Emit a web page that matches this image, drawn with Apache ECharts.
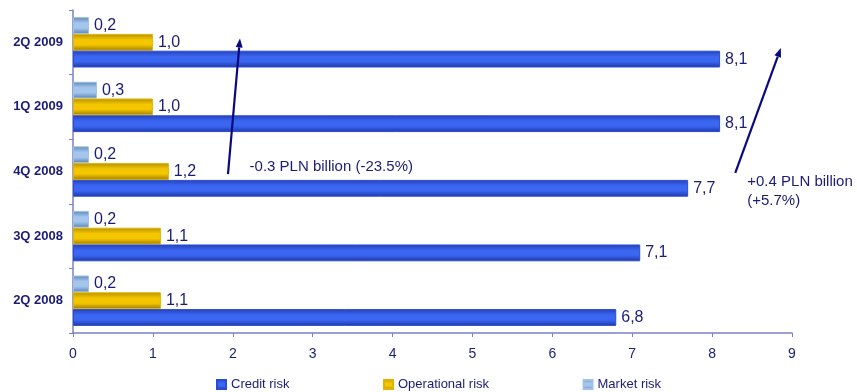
<!DOCTYPE html>
<html>
<head>
<meta charset="utf-8">
<script src="https://cdn.jsdelivr.net/npm/echarts@6/dist/echarts.min.js"></script>
<style>
  html, body { margin: 0; padding: 0; background: #ffffff; }
  #chart { width: 857px; height: 392px; }
</style>
</head>
<body>
<div id="chart"></div>
<script>
// Quarters, bottom to top
const quarters = ['2Q 2008', '3Q 2008', '4Q 2008', '1Q 2009', '2Q 2009'];
// Capital requirements, PLN billion
const creditRisk = [6.8, 7.1, 7.7, 8.1, 8.1];
const operationalRisk = [1.1, 1.1, 1.2, 1.0, 1.0];
const marketRisk = [0.2, 0.2, 0.2, 0.3, 0.2];
const xTicks = [0, 1, 2, 3, 4, 5, 6, 7, 8, 9];

const navy = '#1B1B78';
const fontFamily = 'Liberation Sans, Arial, sans-serif';

function shade(edgeTop, mid, edgeBottom) {
  return new echarts.graphic.LinearGradient(0, 0, 0, 1, [
    { offset: 0, color: edgeTop },
    { offset: 0.35, color: mid },
    { offset: 0.65, color: mid },
    { offset: 1, color: edgeBottom }
  ]);
}

const commaLabel = {
  show: true,
  position: 'right',
  distance: 5,
  color: navy,
  fontSize: 16,
  fontFamily: fontFamily,
  formatter: p => p.value.toFixed(1).replace('.', ',')
};

const chart = echarts.init(document.getElementById('chart'), null, { renderer: 'canvas' });

// Within each quarter the bars stack top-down: market, operational, credit
chart.setOption({
  animation: false,
  backgroundColor: '#ffffff',
  grid: { left: 73, right: 65, top: 10, bottom: 59, containLabel: false },
  legend: {
    left: 211,
    top: 373,
    itemWidth: 9,
    itemHeight: 9,
    itemGap: 93.5,
    icon: 'rect',
    textStyle: { color: navy, fontSize: 13, fontFamily: fontFamily },
    data: ['Credit risk', 'Operational risk', 'Market risk']
  },
  xAxis: {
    type: 'value',
    min: xTicks[0],
    max: xTicks[xTicks.length - 1],
    interval: 1,
    axisLine: { show: true, lineStyle: { color: '#7C80C4', width: 1.5 } },
    axisTick: { show: true, length: 4, lineStyle: { color: '#7C80C4' } },
    axisLabel: { color: navy, fontSize: 14, fontFamily: fontFamily, margin: 14 },
    splitLine: { show: false }
  },
  yAxis: {
    type: 'category',
    data: quarters,
    axisLine: { show: true, lineStyle: { color: '#7C80C4', width: 1.5 } },
    axisTick: { show: true, length: 4, lineStyle: { color: '#7C80C4' } },
    axisLabel: { color: navy, fontSize: 13, fontWeight: 'bold', fontFamily: fontFamily, margin: 10 },
    splitLine: { show: false }
  },
  series: [
    {
      name: 'Market risk',
      type: 'bar',
      data: marketRisk,
      barGap: '0%',
      barCategoryGap: '22%',
      itemStyle: {
        color: shade('#5F86B6', '#A4C6EC', '#5A80B0'),
        borderColor: '#9EC2EA',
        borderWidth: 1
      },
      label: commaLabel
    },
    {
      name: 'Operational risk',
      type: 'bar',
      data: operationalRisk,
      itemStyle: {
        color: shade('#B58F00', '#F4C600', '#9C7A00'),
        borderColor: '#E0B400',
        borderWidth: 1
      },
      label: commaLabel
    },
    {
      name: 'Credit risk',
      type: 'bar',
      data: creditRisk,
      itemStyle: {
        color: shade('#2640B8', '#3A66F2', '#1E36A4'),
        borderColor: '#2A4CD0',
        borderWidth: 1
      },
      label: commaLabel
    }
  ]
});

// Pixel position from a value on the x axis and a (fractional) category index
function toPx(xVal, yIdx) {
  const x = chart.convertToPixel({ xAxisIndex: 0 }, xVal);
  const y0 = chart.convertToPixel({ yAxisIndex: 0 }, 0);
  const y1 = chart.convertToPixel({ yAxisIndex: 0 }, 1);
  return [x, y0 + (y1 - y0) * yIdx];
}

function arrow(from, to) {
  const a = toPx(from[0], from[1]);
  const b = toPx(to[0], to[1]);
  const ang = Math.atan2(b[1] - a[1], b[0] - a[0]);
  const len = 9, half = 3.5;
  const base = [b[0] - len * Math.cos(ang), b[1] - len * Math.sin(ang)];
  const p1 = [base[0] + half * Math.sin(ang), base[1] - half * Math.cos(ang)];
  const p2 = [base[0] - half * Math.sin(ang), base[1] + half * Math.cos(ang)];
  return [
    {
      type: 'line',
      shape: { x1: a[0], y1: a[1], x2: base[0], y2: base[1] },
      style: { stroke: '#0A0A80', lineWidth: 2.2 },
      z: 10
    },
    {
      type: 'polygon',
      shape: { points: [b, p1, p2] },
      style: { fill: '#0A0A80' },
      z: 10
    }
  ];
}

function note(xVal, yIdx, text) {
  const p = toPx(xVal, yIdx);
  return {
    type: 'text',
    x: p[0],
    y: p[1],
    style: {
      text: text,
      fill: navy,
      fontSize: 15,
      fontFamily: fontFamily,
      lineHeight: 19,
      verticalAlign: 'top'
    },
    z: 10
  };
}

chart.setOption({
  graphic: [
    ...arrow([1.94, 1.96], [2.09, 4.06]),
    ...arrow([8.29, 1.98], [8.86, 3.91]),
    note(2.21, 2.22, '-0.3 PLN billion (-23.5%)'),
    note(8.44, 1.98, '+0.4 PLN billion\n(+5.7%)')
  ]
});
</script>
</body>
</html>
